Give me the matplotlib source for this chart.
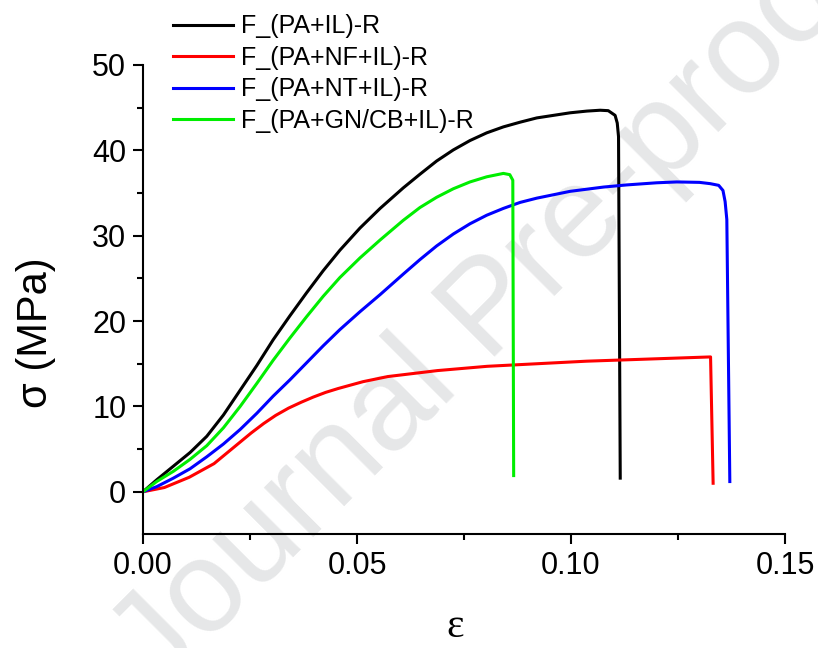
import numpy as np
import matplotlib
matplotlib.use("Agg")
import matplotlib.pyplot as plt

# strain / stress readings for each sample
labels = ["F_(PA+IL)-R", "F_(PA+NF+IL)-R", "F_(PA+NT+IL)-R", "F_(PA+GN/CB+IL)-R"]
colors = ["#000000", "#ff0000", "#0000ff", "#00ee00"]

strain_pa_il = [0.0, 0.0032, 0.0071, 0.011, 0.0149, 0.0188, 0.0227, 0.0266, 0.0304,
                0.0343, 0.0382, 0.0421, 0.046, 0.0507, 0.0554, 0.0608, 0.0647, 0.0686,
                0.0725, 0.0764, 0.0803, 0.0842, 0.0881, 0.092, 0.0959, 0.0998, 0.1037,
                0.1068, 0.1087, 0.1103, 0.1108, 0.1111, 0.1115]
stress_pa_il = [0.0, 1.4, 3.0, 4.6, 6.5, 9.0, 11.9, 14.8, 17.8,
                20.6, 23.3, 25.9, 28.3, 30.9, 33.2, 35.6, 37.2, 38.75,
                40.05, 41.15, 42.05, 42.75, 43.3, 43.8, 44.1, 44.4, 44.6,
                44.7, 44.65, 44.1, 43.2, 41.6, 1.6]

strain_pa_nf = [0.0, 0.005, 0.0108, 0.0166, 0.0224, 0.0253, 0.0282, 0.031, 0.034, 0.037,
                0.0398, 0.0427, 0.0456, 0.0514, 0.0572, 0.0688, 0.0804, 0.092, 0.1036,
                0.1152, 0.1326, 0.1332]
stress_pa_nf = [0.0, 0.5, 1.7, 3.3, 5.7, 6.9, 8.0, 8.95, 9.8, 10.5,
                11.1, 11.65, 12.1, 12.9, 13.5, 14.2, 14.7, 15.0, 15.3,
                15.5, 15.8, 1.0]

strain_pa_nt = [0.0, 0.0032, 0.0071, 0.011, 0.0149, 0.0188, 0.0227, 0.0266, 0.0304,
                0.0343, 0.0382, 0.0421, 0.046, 0.0507, 0.0554, 0.0608, 0.0647, 0.0686,
                0.0725, 0.0764, 0.0803, 0.0842, 0.0881, 0.092, 0.0998, 0.1076, 0.113,
                0.12, 0.1247, 0.13, 0.1325, 0.1345, 0.1355, 0.136, 0.1364, 0.1371]
stress_pa_nt = [0.0, 0.6, 1.6, 2.7, 4.1, 5.6, 7.3, 9.2, 11.2,
                13.1, 15.1, 17.1, 19.0, 21.1, 23.1, 25.5, 27.2, 28.8,
                30.2, 31.4, 32.4, 33.2, 33.9, 34.4, 35.2, 35.7, 35.95,
                36.2, 36.3, 36.25, 36.1, 35.9, 35.3, 34.0, 31.9, 1.2]

strain_pa_gn = [0.0, 0.0032, 0.0071, 0.011, 0.0149, 0.0188, 0.0227, 0.0266, 0.0304,
                0.0343, 0.0382, 0.0421, 0.046, 0.0507, 0.0554, 0.0608, 0.0647, 0.0686,
                0.0725, 0.0764, 0.0803, 0.0842, 0.0857, 0.0864, 0.0866]
stress_pa_gn = [0.0, 1.2, 2.4, 3.8, 5.4, 7.5, 10.0, 12.7, 15.4,
                18.0, 20.5, 22.9, 25.1, 27.4, 29.5, 31.8, 33.3, 34.5,
                35.5, 36.3, 36.9, 37.3, 37.15, 36.5, 1.9]

series = [(strain_pa_il, stress_pa_il), (strain_pa_nf, stress_pa_nf),
          (strain_pa_nt, stress_pa_nt), (strain_pa_gn, stress_pa_gn)]

plt.rcParams["font.family"] = ["Liberation Sans", "DejaVu Sans"]

fig = plt.figure(figsize=(8.18, 6.48), dpi=100)
ax = fig.add_axes([0.1748, 0.1752, 0.7849, 0.7245])

# watermark, behind everything
fig.text(0.60, 0.52, "Journal Pre-proof", fontsize=94, color="#e6e7e8",
         rotation=45, ha="center", va="center", zorder=-1)

for (x, y), c, lab in zip(series, colors, labels):
    ax.plot(x, y, color=c, lw=2.2, label=lab, solid_joinstyle="round")

ax.set_xlim(0, 0.15)
ax.set_ylim(-5, 50)
ax.set_xticks([0, 0.05, 0.10, 0.15])
ax.set_xticklabels(["0.00", "0.05", "0.10", "0.15"])
ax.set_xticks([0.025, 0.075, 0.125], minor=True)
ax.set_yticks([0, 10, 20, 30, 40, 50])
ax.set_yticks([5, 15, 25, 35, 45], minor=True)

ax.patch.set_alpha(0)
for s in ["top", "right"]:
    ax.spines[s].set_visible(False)
for s in ["left", "bottom"]:
    ax.spines[s].set_linewidth(1.5)

ax.tick_params(which="major", direction="out", length=7, width=1.5, labelsize=22, pad=5)
ax.tick_params(which="minor", direction="out", length=4.5, width=1.5)

ax.set_ylabel("σ (MPa)", fontsize=30)
ax.yaxis.set_label_coords(-0.135, 0.429)
fig.text(0.556, 0.003, "ε", fontsize=30, family="Liberation Serif", ha="center", va="bottom")

ax.legend(loc="upper left", bbox_to_anchor=(0.2115, 0.978), bbox_transform=fig.transFigure,
          frameon=False, fontsize=18, handlelength=2.4, handletextpad=0.3,
          labelspacing=0.3, borderpad=0, borderaxespad=0)

fig.savefig("out.png", dpi=100)
